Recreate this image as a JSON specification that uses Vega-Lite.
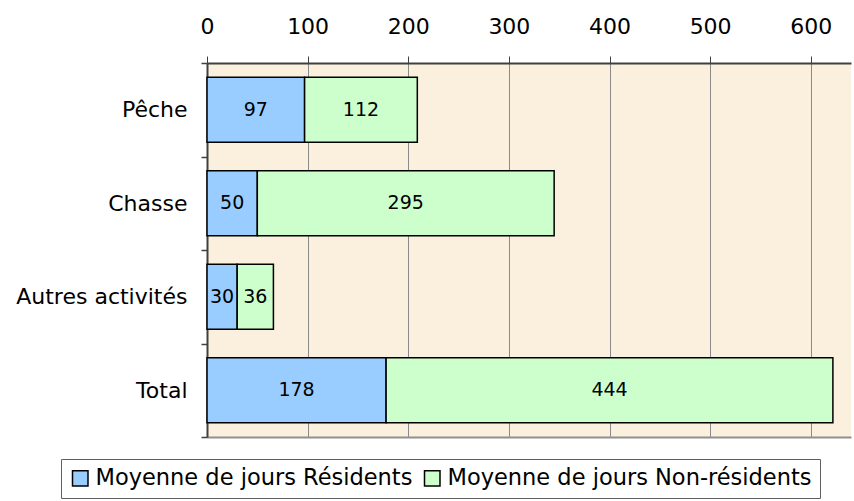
{
  "$schema": "https://vega.github.io/schema/vega-lite/v6.json",
  "width": 644,
  "height": 374,
  "autosize": "none",
  "padding": {"left": 207, "top": 63, "right": 3, "bottom": 64},
  "background": "white",
  "config": {
    "view": {"fill": "#fbf0dd", "stroke": null},
    "font": "DejaVu Sans"
  },
  "data": {
    "values": [
      {"cat": "Pêche", "type": "Moyenne de jours Résidents", "ord": 1, "value": 97},
      {"cat": "Pêche", "type": "Moyenne de jours Non-résidents", "ord": 2, "value": 112},
      {"cat": "Chasse", "type": "Moyenne de jours Résidents", "ord": 1, "value": 50},
      {"cat": "Chasse", "type": "Moyenne de jours Non-résidents", "ord": 2, "value": 295},
      {"cat": "Autres activités", "type": "Moyenne de jours Résidents", "ord": 1, "value": 30},
      {"cat": "Autres activités", "type": "Moyenne de jours Non-résidents", "ord": 2, "value": 36},
      {"cat": "Total", "type": "Moyenne de jours Résidents", "ord": 1, "value": 178},
      {"cat": "Total", "type": "Moyenne de jours Non-résidents", "ord": 2, "value": 444}
    ]
  },
  "transform": [
    {"stack": "value", "groupby": ["cat"], "sort": [{"field": "ord", "order": "ascending"}], "as": ["v0", "v1"]},
    {"calculate": "(datum.v0 + datum.v1) / 2", "as": "mid"}
  ],
  "encoding": {
    "y": {
      "field": "cat",
      "type": "nominal",
      "sort": ["Pêche", "Chasse", "Autres activités", "Total"],
      "scale": {"paddingInner": 0, "paddingOuter": 0},
      "axis": {
        "title": null,
        "tickBand": "extent",
        "tickSize": 6,
        "tickColor": "#404040",
        "tickWidth": 1.5,
        "domainColor": "#404040",
        "domainWidth": 2,
        "labelFontSize": 22,
        "labelColor": "black",
        "labelPadding": 14,
        "labelLimit": 300
      }
    }
  },
  "layer": [
    {
      "mark": {"type": "bar", "stroke": "black", "strokeWidth": 1.5, "height": {"band": 0.695}},
      "encoding": {
        "x": {
          "field": "v0",
          "type": "quantitative",
          "scale": {"domain": [0, 640], "nice": false},
          "axis": {
            "orient": "top",
            "title": null,
            "values": [0, 100, 200, 300, 400, 500, 600],
            "grid": true,
            "gridColor": "#8a8a8a",
            "gridWidth": 1,
            "tickSize": 7,
            "tickColor": "#404040",
            "tickWidth": 1,
            "domainColor": "#404040",
            "domainWidth": 2,
            "labelFontSize": 22,
            "labelColor": "black",
            "labelPadding": 18,
            "labelFlush": false
          }
        },
        "x2": {"field": "v1"},
        "color": {
          "field": "type",
          "type": "nominal",
          "scale": {
            "domain": ["Moyenne de jours Résidents", "Moyenne de jours Non-résidents"],
            "range": ["#99ccff", "#ccffcc"]
          },
          "legend": {
            "title": null,
            "orient": "none",
            "direction": "horizontal",
            "legendX": -146,
            "legendY": 396,
            "strokeColor": "#606060",
            "fillColor": "white",
            "padding": 8,
            "symbolType": "square",
            "symbolSize": 240,
            "symbolStrokeColor": "black",
            "symbolStrokeWidth": 1.5,
            "labelFontSize": 22.5,
            "labelColor": "black",
            "labelLimit": 500,
            "labelOffset": 4,
            "columnPadding": 8,
            "symbolOffset": 0
          }
        }
      }
    },
    {
      "mark": {"type": "text", "fontSize": 19, "color": "black"},
      "encoding": {
        "x": {
          "field": "mid",
          "type": "quantitative",
          "axis": {
            "orient": "bottom",
            "title": null,
            "labels": false,
            "ticks": false,
            "grid": false,
            "domainColor": "#909090",
            "domainWidth": 2
          }
        },
        "text": {"field": "value", "type": "quantitative"}
      }
    }
  ]
}
